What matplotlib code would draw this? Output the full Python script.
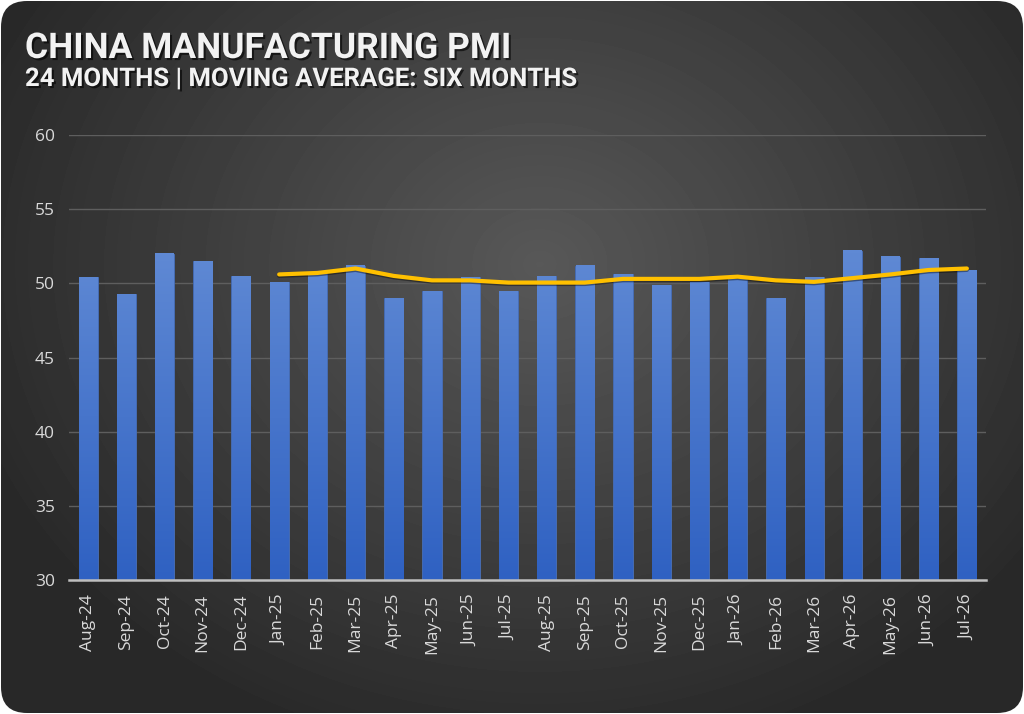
import matplotlib
matplotlib.use("Agg")
import matplotlib.pyplot as plt
import matplotlib.patheffects as pe
from matplotlib.patches import FancyBboxPatch
import numpy as np

months = ["Aug-24", "Sep-24", "Oct-24", "Nov-24", "Dec-24", "Jan-25", "Feb-25", "Mar-25",
          "Apr-25", "May-25", "Jun-25", "Jul-25", "Aug-25", "Sep-25", "Oct-25", "Nov-25",
          "Dec-25", "Jan-26", "Feb-26", "Mar-26", "Apr-26", "May-26", "Jun-26", "Jul-26"]
pmi = [50.4, 49.3, 52.0, 51.5, 50.5, 50.1, 50.7, 51.2, 49.0, 49.5, 50.4, 49.5,
       50.5, 51.2, 50.6, 49.9, 50.1, 50.3, 49.0, 50.4, 52.2, 51.8, 51.7, 50.9]
# six month moving average, starts at Jan-25
ma_vals = [50.6, 50.7, 51.0, 50.5, 50.2, 50.2, 50.05, 50.05, 50.05, 50.3, 50.3, 50.3,
           50.45, 50.2, 50.1, 50.35, 50.6, 50.9, 51.0]

yticks = [30, 35, 40, 45, 50, 55, 60]

W, H = 1024, 714
fig = plt.figure(figsize=(W / 100, H / 100), dpi=100)
fig.patch.set_facecolor("white")

# card background with radial gradient
bg = fig.add_axes([0, 0, 1, 1], zorder=0)
bg.set_xlim(0, W)
bg.set_ylim(0, H)
bg.axis("off")
gx, gy = np.meshgrid(np.linspace(0, W, 256), np.linspace(0, H, 180))
d = np.sqrt(((gx - 540) / 620) ** 2 + ((gy - 450) / 520) ** 2)
shade = np.clip(0.345 - 0.19 * d, 0.16, 0.35)
img = bg.imshow(shade, cmap="gray", vmin=0, vmax=1, extent=[0, W, 0, H],
                origin="lower", aspect="auto", interpolation="bilinear")
card = FancyBboxPatch((1, 1), W - 2, H - 2, boxstyle="round,pad=0,rounding_size=26",
                      facecolor="none", edgecolor="none", transform=bg.transData)
bg.add_patch(card)
img.set_clip_path(card)

ax = fig.add_axes([69 / W, 134 / H, 917 / W, 445 / H], zorder=1)
ax.patch.set_alpha(0)
x = np.arange(len(months))

top_c = np.array([0x5f, 0x89, 0xd4]) / 255
bot_c = np.array([0x2f, 0x61, 0xc2]) / 255
bars = ax.bar(x, pmi, width=0.5, bottom=0, color=top_c, edgecolor="#456db8",
              linewidth=0.6, zorder=2)
for b in bars:
    b.set_path_effects([pe.SimplePatchShadow(offset=(0, 0), shadow_rgbFace="black", alpha=0.35),
                        pe.Normal()])
# vertical gradient inside each bar
for b, v in zip(bars, pmi):
    ys = np.linspace(30, v, 200)
    t = ((ys - 30) / 22.0)[:, None]
    col = bot_c * (1 - t) + top_c * t
    grad = np.repeat(col[:, None, :], 2, axis=1)
    ax.imshow(grad, extent=[b.get_x() + 0.01, b.get_x() + b.get_width() - 0.01, 30, v - 0.02],
              origin="lower", aspect="auto", zorder=2.5, interpolation="nearest")

ax.plot(x[5:], ma_vals, color="#ffc000", linewidth=3.0, zorder=4, solid_capstyle="round",
        path_effects=[pe.SimpleLineShadow(offset=(0, -1), alpha=0.4), pe.Normal()])

ax.set_xlim(-0.5, len(months) - 0.5)
ax.set_ylim(30, 60)
ax.set_yticks(yticks)
ax.yaxis.grid(True, color="#5e5e5e", linewidth=1.0, zorder=1)
ax.set_axisbelow(True)
ax.set_xticks(x)
ax.set_xticklabels(months, rotation=90)
for s in ["top", "right", "left"]:
    ax.spines[s].set_visible(False)
ax.spines["bottom"].set_color("#bfbfbf")
ax.spines["bottom"].set_linewidth(1.8)
ax.spines["bottom"].set_zorder(5)
ax.tick_params(axis="both", length=0, colors="#d9d9d9", labelsize=12.5)
ax.tick_params(axis="y", pad=10)
ax.tick_params(axis="x", pad=10)
for lab in ax.get_xticklabels() + ax.get_yticklabels():
    lab.set_family("Open Sans")

shadow = [pe.withSimplePatchShadow(offset=(1.5, -1.5), shadow_rgbFace="black", alpha=0.6)]
fig.text(25 / W, 1 - 58 / H, "CHINA MANUFACTURING PMI", color="#f2f2f2", fontsize=25.5,
         fontweight="bold", family="Roboto", zorder=3, path_effects=shadow)
fig.text(25 / W, 1 - 86 / H, "24 MONTHS | MOVING AVERAGE: SIX MONTHS", color="#f2f2f2",
         fontsize=18.5, fontweight="bold", family="Roboto", zorder=3, path_effects=shadow)

fig.savefig("out.png", dpi=100, facecolor=fig.get_facecolor())
